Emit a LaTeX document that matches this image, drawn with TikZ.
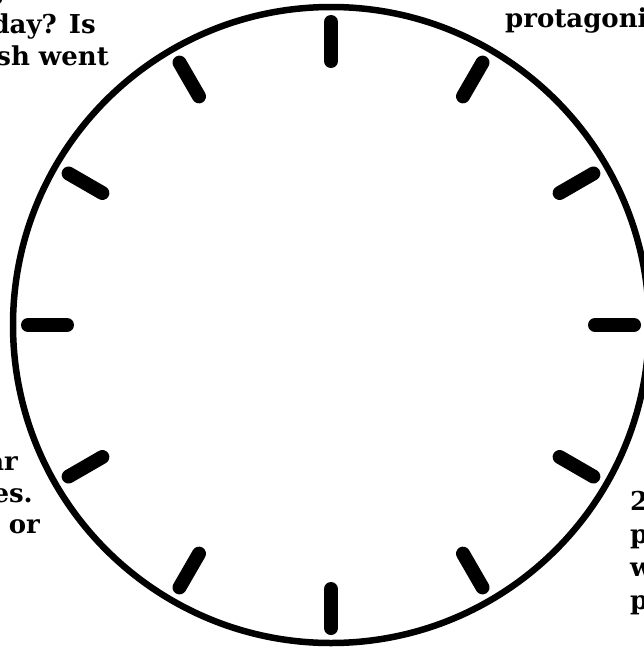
\documentclass[tikz,border=0pt]{standalone}
\usepackage{fontspec}
\setmainfont{DejaVu Serif}
\usepackage{tikz}
\usetikzlibrary{positioning}
\definecolor{ink}{HTML}{000000}
\tikzset{
  rim/.style={draw=ink,line width=6.5pt},
  hourmark/.style={draw=ink,line width=14pt,line cap=round},
  cuttext/.style={font=\bfseries\fontsize{26}{32}\selectfont,text=ink,inner sep=0pt}
}

\begin{document}
\begin{tikzpicture}[x=1pt,y=-1pt]
  \useasboundingbox (0,0) rectangle (644,648);
  % dial
  \coordinate (o) at (331,325);
  \draw[rim] (o) circle[radius=318pt];
  \foreach \a in {0,30,...,330}
    \draw[hourmark] (o) ++(\a:264) -- ++(\a:39);
  % text cut by the page edge
  \node[cuttext,anchor=base east] (tlg) at (5,-1) {g};
  \node[cuttext,anchor=base east] (tla) at (96,33) {day? Is};
  \node[cuttext,anchor=base east] (tlb) at (109,65) {sh went};
  \node[cuttext,anchor=base west] (tra) at (505,27) {protagoni};
  \node[cuttext,anchor=base east] (bla) at (18,470) {ar};
  \node[cuttext,anchor=base east] (blb) at (33,502) {es.};
  \node[cuttext,anchor=base east] (blc) at (40,533) {or};
  \node[cuttext,anchor=base west] (bra) at (630,510) {2};
  \node[cuttext,anchor=base west] (brb) at (630,543) {p};
  \node[cuttext,anchor=base west] (brc) at (630,576) {w};
  \node[cuttext,anchor=base west] (brd) at (630,609) {p};
\end{tikzpicture}
\end{document}
